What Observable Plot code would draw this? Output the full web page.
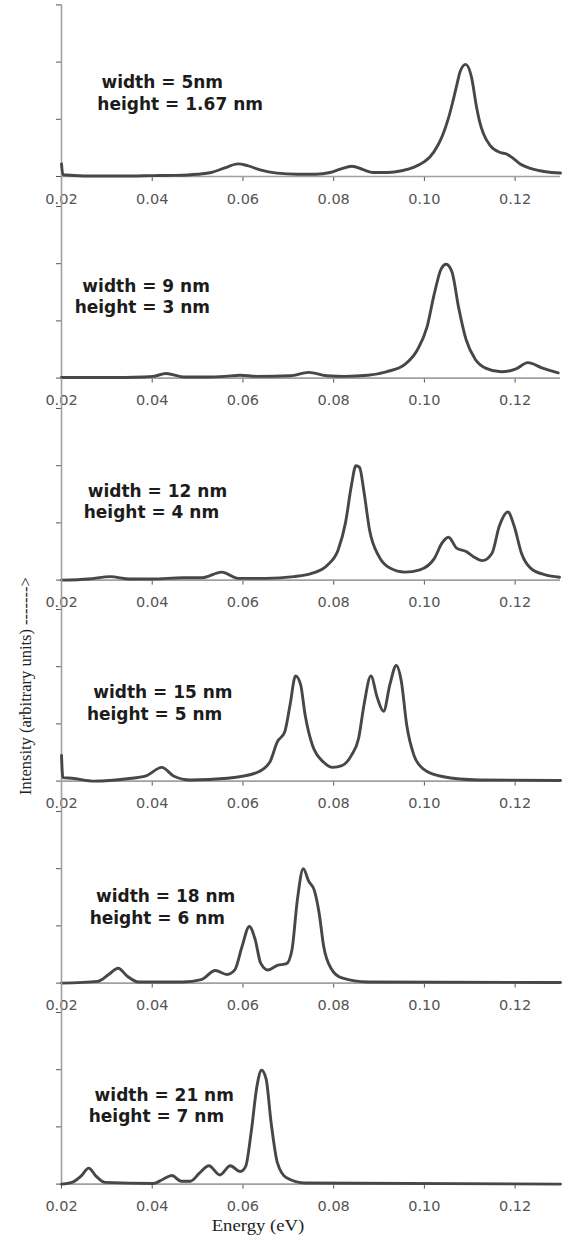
<!DOCTYPE html>
<html>
<head>
<meta charset="utf-8">
<script src="https://cdn.jsdelivr.net/npm/d3@7"></script>
<script src="https://cdn.jsdelivr.net/npm/@observablehq/plot@0.6"></script>
<style>
  html, body { margin: 0; padding: 0; background: #fff; }
  #chart { position: relative; width: 568px; height: 1240px; overflow: hidden; background: #fff; }
  #chart svg { position: absolute; left: 0; }
  .lab { position: absolute; white-space: nowrap; color: #222; font-family: "Liberation Serif", serif; font-size: 16.5px; }
</style>
</head>
<body>
<div id="chart"></div>
<script>
// ---------------- data ----------------
const xTicks = [0.02, 0.04, 0.06, 0.08, 0.10, 0.12];
const yTicks = [0, 1, 2, 3];

const widthLabels  = ["width = 5nm", "width = 9 nm", "width = 12 nm", "width = 15 nm", "width = 18 nm", "width = 21 nm"];
const heightLabels = ["height = 1.67 nm", "height = 3 nm", "height = 4 nm", "height = 5 nm", "height = 6 nm", "height = 7 nm"];

const energy1 = [0.020, 0.0203, 0.025, 0.030, 0.035, 0.040, 0.045, 0.050, 0.053, 0.056, 0.0589, 0.061, 0.064, 0.0675, 0.072, 0.076, 0.0792, 0.0815, 0.0840, 0.0865, 0.0887, 0.092, 0.095, 0.0976, 0.1000, 0.1012, 0.1030, 0.1041, 0.1053, 0.1063, 0.1072, 0.1079, 0.1091, 0.1104, 0.1115, 0.1122, 0.1130, 0.1145, 0.1167, 0.1182, 0.1195, 0.1211, 0.1230, 0.1255, 0.1280, 0.1300];
const intensity1 = [0.22, 0.03, 0.01, 0.01, 0.01, 0.015, 0.02, 0.04, 0.07, 0.15, 0.22, 0.19, 0.11, 0.06, 0.04, 0.04, 0.07, 0.13, 0.18, 0.12, 0.07, 0.07, 0.10, 0.16, 0.26, 0.34, 0.55, 0.74, 1.02, 1.32, 1.62, 1.84, 1.96, 1.73, 1.21, 0.95, 0.75, 0.54, 0.42, 0.39, 0.32, 0.22, 0.15, 0.10, 0.07, 0.06];

const energy2 = [0.020, 0.030, 0.038, 0.0402, 0.0431, 0.0468, 0.052, 0.056, 0.0594, 0.063, 0.0704, 0.0745, 0.0786, 0.0825, 0.0875, 0.0916, 0.0957, 0.0985, 0.1006, 0.1022, 0.1037, 0.1048, 0.1061, 0.1075, 0.1092, 0.1112, 0.1136, 0.1169, 0.1202, 0.1228, 0.1259, 0.1295];
const intensity2 = [0.01, 0.01, 0.02, 0.03, 0.08, 0.02, 0.02, 0.03, 0.05, 0.03, 0.04, 0.10, 0.04, 0.03, 0.05, 0.11, 0.24, 0.50, 0.90, 1.48, 1.91, 1.99, 1.85, 1.25, 0.67, 0.33, 0.17, 0.11, 0.16, 0.27, 0.18, 0.09];

const energy3 = [0.020, 0.026, 0.0308, 0.035, 0.040, 0.0468, 0.051, 0.0553, 0.059, 0.065, 0.0712, 0.0753, 0.0786, 0.0810, 0.0826, 0.0839, 0.0849, 0.0857, 0.0867, 0.0879, 0.0900, 0.0924, 0.0957, 0.0990, 0.1022, 0.1039, 0.1053, 0.1071, 0.1092, 0.1108, 0.1128, 0.1149, 0.1165, 0.1184, 0.1198, 0.1214, 0.1234, 0.1267, 0.1298];
const intensity3 = [0.00, 0.02, 0.06, 0.02, 0.02, 0.04, 0.04, 0.14, 0.03, 0.03, 0.06, 0.12, 0.26, 0.53, 1.00, 1.65, 2.00, 1.97, 1.53, 0.88, 0.41, 0.21, 0.14, 0.18, 0.38, 0.65, 0.75, 0.56, 0.50, 0.41, 0.34, 0.47, 0.94, 1.19, 0.94, 0.47, 0.21, 0.09, 0.05];

const energy4 = [0.020, 0.0203, 0.0223, 0.0272, 0.0345, 0.0386, 0.0421, 0.0447, 0.0484, 0.0566, 0.0631, 0.0659, 0.0676, 0.0692, 0.0704, 0.0716, 0.0727, 0.0737, 0.0753, 0.0778, 0.0798, 0.0818, 0.0839, 0.0855, 0.0867, 0.0882, 0.0896, 0.0910, 0.0924, 0.0938, 0.0949, 0.0961, 0.0977, 0.0998, 0.1039, 0.1120, 0.1300];
const intensity4 = [0.45, 0.06, 0.05, 0.00, 0.04, 0.09, 0.24, 0.09, 0.02, 0.05, 0.15, 0.33, 0.69, 0.86, 1.34, 1.84, 1.69, 1.16, 0.63, 0.33, 0.24, 0.27, 0.45, 0.75, 1.34, 1.84, 1.46, 1.22, 1.69, 2.02, 1.75, 0.98, 0.45, 0.21, 0.08, 0.02, 0.01];

const energy5 = [0.020, 0.028, 0.0304, 0.0325, 0.0345, 0.037, 0.0468, 0.0508, 0.0539, 0.0565, 0.0582, 0.0598, 0.0614, 0.0627, 0.0639, 0.0655, 0.0676, 0.0696, 0.0708, 0.0720, 0.0733, 0.0745, 0.0757, 0.0768, 0.0778, 0.0794, 0.0818, 0.0875, 0.1300];
const intensity5 = [0.00, 0.03, 0.15, 0.26, 0.12, 0.02, 0.02, 0.06, 0.22, 0.15, 0.23, 0.64, 0.99, 0.76, 0.35, 0.23, 0.31, 0.34, 0.58, 1.46, 2.00, 1.78, 1.63, 1.22, 0.64, 0.26, 0.09, 0.02, 0.01];

const energy6 = [0.020, 0.0223, 0.0243, 0.0260, 0.0276, 0.0296, 0.0402, 0.0423, 0.0443, 0.0464, 0.0484, 0.0504, 0.0525, 0.0549, 0.0572, 0.0594, 0.0606, 0.0618, 0.0631, 0.0641, 0.0651, 0.0662, 0.0676, 0.0696, 0.0737, 0.1300];
const intensity6 = [0.00, 0.03, 0.14, 0.28, 0.14, 0.03, 0.01, 0.08, 0.15, 0.05, 0.05, 0.19, 0.32, 0.16, 0.32, 0.22, 0.31, 0.90, 1.72, 1.99, 1.84, 1.08, 0.37, 0.11, 0.02, 0.00];

const energies = [energy1, energy2, energy3, energy4, energy5, energy6];
const intensities = [intensity1, intensity2, intensity3, intensity4, intensity5, intensity6];

// ---------------- layout ----------------
const W = 568;
const unit = 57.2;            // px per intensity unit
const firstBase = 176;        // baseline of first panel
const step = 201.6;           // baseline spacing
const mLeft = 61, mRight = 8;
// annotation anchors (energy, intensity) per panel: [line1x, line1y, line2x, line2y]
const annot = [
  [0.0288, 1.54, 0.0279, 1.17],
  [0.0246, 1.50, 0.0229, 1.14],
  [0.0258, 1.45, 0.0249, 1.08],
  [0.0270, 1.45, 0.0256, 1.07],
  [0.0276, 1.42, 0.0262, 1.03],
  [0.0273, 1.45, 0.0260, 1.08]
];

const chart = document.getElementById("chart");

energies.forEach((en, i) => {
  const data = en.map((e, j) => ({E: e, I: intensities[i][j]}));
  const base = firstBase + step * i;
  const yMax = i === 0 ? 3 : step / unit;
  const innerH = yMax * unit;
  const top = i === 0 ? 0 : base - innerH;
  const mTop = base - innerH - top;
  const mBottom = i === 5 ? 1240 - base : 40;
  const a = annot[i];
  const svg = Plot.plot({
    width: W,
    height: mTop + innerH + mBottom,
    marginLeft: mLeft,
    marginRight: mRight,
    marginTop: mTop,
    marginBottom: mBottom,
    style: {background: "transparent", overflow: "visible", fontFamily: "DejaVu Sans, sans-serif", fontSize: "14.5px", color: "#555"},
    x: {domain: [0.02, 0.13], ticks: xTicks, tickFormat: d3.format(".2f"), tickSize: 5, tickPadding: 12, label: null},
    y: {domain: [0, yMax], ticks: yTicks, tickSize: 5, tickFormat: () => "", label: null},
    marks: [
      Plot.ruleX([0.02], {stroke: "#a0a0a0", strokeWidth: 1.6}),
      Plot.ruleY([0], {stroke: "#a0a0a0", strokeWidth: 1.6}),
      Plot.line(data, {x: "E", y: "I", curve: "monotone-x", stroke: "#474747", strokeWidth: 2.9}),
      Plot.text([widthLabels[i]], {x: a[0], y: a[1], text: d => d, textAnchor: "start", lineAnchor: "bottom",
        fontFamily: "DejaVu Sans", fontWeight: "bold", fontSize: 17, fill: "#1c1c1c"}),
      Plot.text([heightLabels[i]], {x: a[2], y: a[3], text: d => d, textAnchor: "start", lineAnchor: "bottom",
        fontFamily: "DejaVu Sans", fontWeight: "bold", fontSize: 17, fill: "#1c1c1c"})
    ]
  });
  svg.style.top = top + "px";
  chart.appendChild(svg);
});

// axis titles
const yl = document.createElement("div");
yl.className = "lab";
yl.textContent = "Intensity (arbitrary units) ------->";
yl.style.left = "26px";
yl.style.top = "686px";
yl.style.transform = "translate(-50%, -50%) rotate(-90deg)";
chart.appendChild(yl);

const xl = document.createElement("div");
xl.className = "lab";
xl.textContent = "Energy (eV)";
xl.style.left = "258px";
xl.style.top = "1226px";
xl.style.fontSize = "16px";
xl.style.transform = "translate(-50%, -50%) scaleX(1.17)";
chart.appendChild(xl);
</script>
</body>
</html>
